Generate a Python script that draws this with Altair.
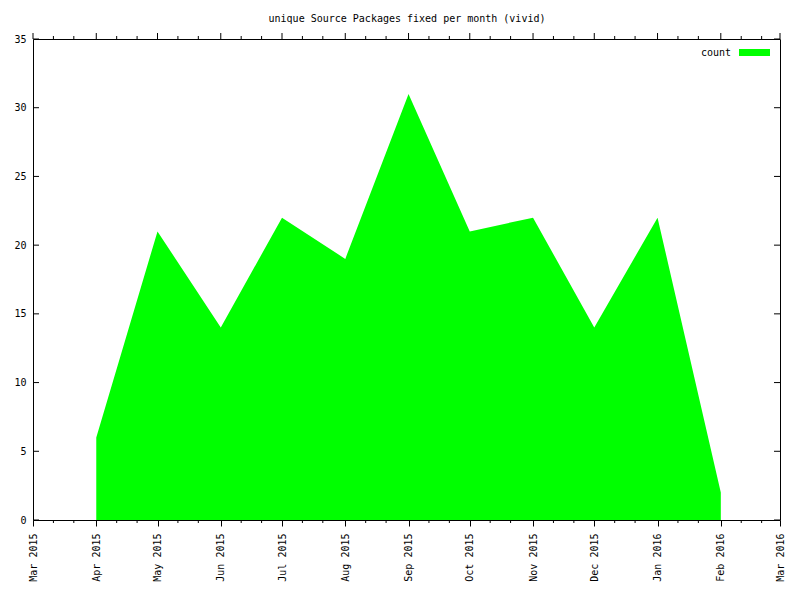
import altair as alt
import pandas as pd

# ---- data ----
months = ["2015-04-01", "2015-05-01", "2015-06-01", "2015-07-01", "2015-08-01",
          "2015-09-01", "2015-10-01", "2015-11-01", "2015-12-01", "2016-01-01",
          "2016-02-01"]
counts = [6, 21, 14, 22, 19, 31, 21, 22, 14, 22, 2]

tick_months = ["2015-03-01", "2015-04-01", "2015-05-01", "2015-06-01", "2015-07-01",
               "2015-08-01", "2015-09-01", "2015-10-01", "2015-11-01", "2015-12-01",
               "2016-01-01", "2016-02-01", "2016-03-01"]
y_ticks = [0, 5, 10, 15, 20, 25, 30, 35]
series_name = "count"
title_text = "unique Source Packages fixed per month (vivid)"

FONT = "DejaVu Sans Mono"
W, H = 747, 481
GREEN = "#00ff00"

df = pd.DataFrame({"date": [m + "T00:00:00" for m in months], "count": counts})
major_df = pd.DataFrame({"d": [m + "T00:00:00" for m in tick_months]})
minor = []
for m in tick_months[:-1]:
    minor.append(m[:8] + "11T00:00:00")
    minor.append(m[:8] + "21T00:00:00")
minor_df = pd.DataFrame({"d": minor})
ytick_df = pd.DataFrame({"v": y_ticks})
legend_df = pd.DataFrame({"label": [series_name]})
title_df = pd.DataFrame({"t": [title_text]})


def dt(s):
    y, mo, d = s.split("-")
    return alt.DateTime(year=int(y), month=int(mo), date=int(d))


xscale = alt.Scale(domain=[dt(tick_months[0]), dt(tick_months[-1])], nice=False)
yscale = alt.Scale(domain=[0, 35], nice=False, zero=True)

area = alt.Chart(df).mark_area(color=GREEN, opacity=1, interpolate="linear").encode(
    x=alt.X("date:T", scale=xscale, title=None, axis=alt.Axis(
        values=[dt(m) for m in tick_months], format="%b %Y", labelAngle=270,
        labelAlign="right", labelBaseline="middle", tickSize=6, tickColor="black",
        labelFont=FONT, labelFontSize=10, labelColor="black", labelPadding=7,
        grid=False, domain=False, labelOverlap=False, labelFlush=False)),
    y=alt.Y("count:Q", scale=yscale, title=None, axis=alt.Axis(
        values=y_ticks, ticks=False, labelFont=FONT, labelFontSize=10,
        labelColor="black", labelPadding=7, grid=False, domain=False)),
)

top_major = alt.Chart(major_df).mark_rule(color="black").encode(
    x=alt.X("d:T", scale=xscale, title=None), y=alt.value(-6), y2=alt.value(0))
top_minor = alt.Chart(minor_df).mark_rule(color="black").encode(
    x=alt.X("d:T", scale=xscale, title=None), y=alt.value(-3), y2=alt.value(0))
bot_minor = alt.Chart(minor_df).mark_rule(color="black").encode(
    x=alt.X("d:T", scale=xscale, title=None), y=alt.value(H), y2=alt.value(H + 3))
left_ticks = alt.Chart(ytick_df).mark_rule(color="black").encode(
    y=alt.Y("v:Q", scale=yscale, title=None), x=alt.value(0), x2=alt.value(6))
right_ticks = alt.Chart(ytick_df).mark_rule(color="black").encode(
    y=alt.Y("v:Q", scale=yscale, title=None), x=alt.value(W - 6), x2=alt.value(W))

leg_text = alt.Chart(legend_df).mark_text(
    font=FONT, fontSize=10, align="right", baseline="middle", color="black"
).encode(text="label:N", x=alt.value(698), y=alt.value(14))
leg_rect = alt.Chart(legend_df).mark_rect(color=GREEN).encode(
    x=alt.value(706), x2=alt.value(737), y=alt.value(10), y2=alt.value(17))

title_mark = alt.Chart(title_df).mark_text(
    font=FONT, fontSize=10, align="center", baseline="alphabetic", color="black"
).encode(text="t:N", x=alt.value(W / 2 + 0.5), y=alt.value(-17))

chart = alt.layer(
    area, top_major, top_minor, bot_minor, left_ticks, right_ticks,
    leg_text, leg_rect, title_mark
).properties(
    width=W, height=H,
    autosize=alt.AutoSizeParams(type="none"),
    padding={"left": 25, "top": 31, "right": 12, "bottom": 72},
).configure(background="white").configure_view(stroke="black", strokeWidth=1)

chart.save("out.html", embed_options={"renderer": "svg", "actions": False})
